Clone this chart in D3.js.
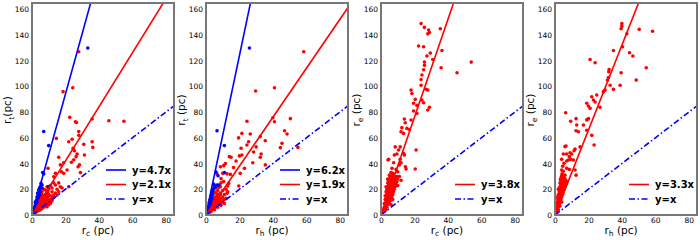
<!DOCTYPE html>
<html>
<head>
<meta charset="utf-8">
<script src="https://cdn.jsdelivr.net/npm/d3@7"></script>
<style>
  body { margin: 0; background: #fff; }
  svg { display: block; font-family: "DejaVu Sans", sans-serif; }
</style>
</head>
<body>
<svg id="chart" width="700" height="240"></svg>
<script>
// tick values shared by every panel
var xTicks = [0, 20, 40, 60, 80];
var yTicks = [0, 20, 40, 60, 80, 100, 120, 140, 160];

// panel 1: r_c vs r_t
var p1Red = [[28,127],[18.6,96],[24.4,99],[22.6,76],[26,72.6],[26.6,72],[36,74.7],[46,73.4],[55,73],
  [14.6,59.6],[28,65],[28,62],[22,57],[24,59],[24.6,52],[25.4,50],[31,55],[36,57],[36.4,52.6],[27,47.5],
  [26.4,45.4],[31.4,46.7],[25,43],[23.6,41],[17,39],[19,40.7],[16,45],[9.6,36.3],[14,32.4],[13,29.8],
  [17.6,33.7],[19,32.4],[21,35],[28.4,39],[27.6,37.6],[29,33],[13,25],[14,23.3],[16,25],[17,22],[22,22],
  [9,22],[8,19.5],[12,18],[13,15.6],[10,11.7],[11,9],[15,15.6],[9,6.5],
  [1,2],[1.5,3],[2,2.5],[2,4],[2.5,5],[3,3.5],[3,6],[3,8],[3.5,4.5],[3.5,7],[4,5],[4,9],[4,12],[4.5,6],
  [4.5,10],[5,5.5],[5,8],[5,14],[5.5,7],[5.5,11],[6,6.5],[6,9],[6,13],[6,18],[6.5,8],[6.5,15],[7,7.5],
  [7,10],[7,12],[7,20],[7.5,9],[7.5,14],[8,8.5],[8,11],[8,16],[8.5,10],[8.5,13],[9,9.5],[9,12],[9,17],
  [9.5,14],[10,11],[10,16],[10,20],[11,12],[11,15],[12,14],[12,21],[13,13.5],[14,17],[8,7],[4,3.5],
  [6,5],[10,8],[11,10],[5,4],[7,6],[3,2.5],[2,1.5],[12,11],[15,20],[16,18],[18,21],[11,23],[6,16],
  [2.5,3.5],[3.5,5.5],[4.5,8],[5.5,9],[6.5,11],[7.5,12],[8.5,15],[9.5,18],[4,6.5],[5,10],[6,11.5],[7,14]];
var p1Blue = [[33.4,130],[7,65],[10,54],[6.4,33],[7,32],[5.4,24.6],[6,23.3],[5,20.7],[4,19.5],[3.4,17],
  [3,14],[4.6,16],[10,22],[1,4],[1.5,6],[2,8],[2,10],[2.5,11],[3,12],[3.5,15],[4,17],[4.5,21],[5,22],
  [2,6],[1,3],[2.5,9],[3,10],[1.5,5],[3.5,13],[4,14],[6,21],[5,18]];
var p1Fits = [{k: 4.7, color: "#0000ff", label: "y=4.7x"}, {k: 2.1, color: "#ff0000", label: "y=2.1x"}];

// panel 2: r_h vs r_t
var p2Red = [[58.5,127],[41,99],[29.7,96.5],[24.5,73],[40,75.7],[41,72.6],[50.5,75],[47,65.6],[48.5,63],
  [21.5,63.5],[19.5,60],[26.5,63],[32.5,61],[35.5,57.8],[25.5,57],[24.5,54.5],[30,53],[21,52],[20,46],
  [21.5,46.7],[28.5,49],[33,47.5],[32.5,45],[44.5,52.4],[45.5,55.8],[55,52.6],[18,42],[16.5,37],[23,36.3],
  [28,40.7],[35.5,39],[11.6,40],[10.6,38.4],[14,45.4],[15,45],[8.6,37.6],[20.5,32.4],[6.6,32],[10,32.4],
  [12.6,32],[14.6,31.6],[9,28.3],[10.6,26],[13.6,24.6],[13,22.6],[8.6,22],[7.6,21.5],[13,18],[12.6,17],
  [8.6,15.6],[19.6,22.6],[4.6,11.7],
  [1,1.5],[1.5,2.5],[2,2.2],[2,4],[2.5,3],[2.5,6],[3,3.5],[3,7],[3.5,5],[3.5,9],[4,4.5],[4,7],[4,12],
  [4.5,6],[4.5,10],[5,5.5],[5,8],[5,14],[5.5,7],[5.5,12],[6,6.5],[6,10],[6,17],[6.5,8],[6.5,14],[7,7.5],
  [7,11],[7,19],[7.5,9],[7.5,15],[8,8.5],[8,12],[8.5,10],[8.5,17],[9,9.5],[9,13],[9.5,11],[10,19],
  [10,14],[11,12],[11,16],[12,13],[12,20],[3,2.5],[5,4],[7,6],[9,7.5],[11,9],[6,21],[5,18],[8,23],[9,25],
  [2.5,4.5],[3.5,6.5],[4.5,8],[5.5,10],[6.5,11],[7.5,13],[4,9.5],[6,14],[7,16]];
var p2Blue = [[26,130],[6.6,65.6],[11,54],[6,33.5],[7.2,30.6],[11,33],[4.6,23.3],[5.6,22],[4.2,19.5],
  [6.6,23.3],[7.6,23.3],[3.6,17],[3,14],[1,4],[1.5,6],[2,8],[2,10],[2.5,12],[3,15],[3.5,18],[4,20],
  [1,3],[2,6],[2.5,9],[3.5,13],[4,16],[5,21],[4.6,24],[3,11],[1.5,5]];
var p2Fits = [{k: 6.2, color: "#0000ff", label: "y=6.2x"}, {k: 1.9, color: "#ff0000", label: "y=1.9x"}];

// panel 3: r_c vs r_e
var p3Red = [[24,149],[26,146],[28.5,144],[29,142],[28,141],[35.5,145],[36.5,128],[22.5,131.5],[25.5,131],
  [29.5,126],[27.5,123.7],[31,121],[26,119],[26,116.5],[25.5,113],[36,114.6],[54,119],[45.5,110.7],
  [24.5,109],[24,105.5],[24,101],[27,97.8],[28,97.2],[18,97.2],[18.5,94.6],[20.5,90],[19.5,87],[21.5,85.3],
  [24.5,89.5],[25.5,87.4],[29,83.8],[28,81.7],[21.5,79],[19.5,81],[18,73.9],[14,74.7],[14.5,71.8],
  [15.5,67.4],[17,66.6],[12,64.8],[13.5,63.5],[12.5,68],[8.5,53],[11.5,53],[10.5,50.6],[8,46.7],[9.5,47.5],
  [13.5,48],[14,46.7],[4.6,43.3],[4.2,42.8],[21,50.6],[11.5,43.3],[12,40.7],[7.6,40.7],[14.6,37.6],
  [15,35.8],[20.5,35.8],[9,35.5],[10,33.7],[11,39],[6.6,36.3],[7.2,32.4],
  [1,2],[1.5,4],[2,3],[2,6],[2,9],[2.5,5],[2.5,8],[2.5,12],[3,4],[3,7],[3,10],[3,14],[3,18],[3.5,6],
  [3.5,9],[3.5,12],[3.5,16],[3.5,20],[4,8],[4,11],[4,14],[4,17],[4,21],[4,25],[4.5,10],[4.5,13],[4.5,16],
  [4.5,19],[4.5,23],[4.5,27],[5,9],[5,12],[5,15],[5,18],[5,21],[5,24],[5,28],[5,31],[5.5,11],[5.5,14],
  [5.5,17],[5.5,20],[5.5,23],[5.5,26],[5.5,30],[6,12],[6,15],[6,18],[6,21],[6,24],[6,27],[6,29],[6,33],
  [6.5,14],[6.5,17],[6.5,20],[6.5,23],[6.5,26],[6.5,30],[7,16],[7,19],[7,22],[7,25],[7,28],[7,31],
  [7.5,18],[7.5,21],[7.5,24],[7.5,27],[7.5,29],[8,20],[8,23],[8,26],[8,30],[8.5,22],[8.5,25],[8.5,28],
  [9,24],[9,27],[9.5,26],[9.5,30],[10,28],[10,23],[11,30],[12,27],[3,22],[4,28],[2.5,15],[6,8],[7,12]];
var p3Fits = [{k: 3.8, color: "#ff0000", label: "y=3.8x"}];

// panel 4: r_h vs r_e
var p4Red = [[40,149],[40,147],[39.6,145],[50.4,144.5],[58.4,143],[43,141],[40.4,131],[35,128],[44.6,126.3],
  [46.6,123.7],[21,121],[24,118.5],[32.4,113.3],[32.2,111.5],[39.6,110.7],[32,107],[31.4,105],[54.6,114.6],
  [48.6,105],[33,101],[39,101],[35,97.8],[30,97.2],[29,96],[25,93.4],[22,92],[23,89.5],[24,88],[19,87],
  [20,84.8],[21,83],[27,83.8],[6.4,79.6],[20,75],[19,74],[12.6,75],[13,70],[12.6,65.6],[9.4,73],[17,70],
  [19,66],[22,62],[23.4,54.5],[14,64.8],[15,53],[6.6,53.7],[6,53.2],[5,47.5],[7,47.5],[9,48.5],[10,47.5],
  [12,51.3],[11.4,50],[8.6,45.4],[9.4,43.3],[8,42.8],[7,42],[11,42.8],[4,43.3],[5.4,40.2],[4.6,38],
  [8.6,35.5],[12,35],[12.6,31],[7,36.3],
  [0.8,3],[1,5],[1.2,8],[1.5,4],[1.5,7],[1.5,10],[1.8,12],[2,6],[2,9],[2,13],[2,16],[2.2,11],[2.5,8],
  [2.5,12],[2.5,15],[2.5,18],[2.5,21],[2.8,14],[3,10],[3,13],[3,16],[3,19],[3,22],[3,25],[3.2,28],
  [3.5,12],[3.5,15],[3.5,18],[3.5,21],[3.5,24],[3.5,27],[3.8,30],[4,14],[4,17],[4,20],[4,23],[4,26],
  [4,29],[4.2,32],[4.5,16],[4.5,19],[4.5,22],[4.5,25],[4.5,28],[4.5,31],[5,18],[5,21],[5,24],[5,27],
  [5,30],[5.5,20],[5.5,23],[5.5,26],[5.5,29],[6,22],[6,25],[6,28],[6.5,24],[6.5,27],[7,26],[5,34],[4,35],
  [2,20],[1.5,14],[3,7],[2,4],[4,10],[6,31]];
var p4Fits = [{k: 3.3, color: "#ff0000", label: "y=3.3x"}];

var panels = [
  {left: 32, xSub: "c", ySub: "t", yGap: "", red: p1Red, blue: p1Blue, fits: p1Fits},
  {left: 206, xSub: "h", ySub: "t", yGap: " ", red: p2Red, blue: p2Blue, fits: p2Fits},
  {left: 381, xSub: "c", ySub: "e", yGap: " ", red: p3Red, blue: [], fits: p3Fits},
  {left: 555, xSub: "h", ySub: "e", yGap: " ", red: p4Red, blue: [], fits: p4Fits}
];

var plotW = 142, plotTop = 3, plotBottom = 215;
var plotH = plotBottom - plotTop;
var svg = d3.select("#chart");

var x = d3.scaleLinear().domain([0, 85]).range([0, plotW]);
var y = d3.scaleLinear().domain([0, 165]).range([plotH, 0]);

// "r" + subscript + rest, with dy shifts so the rest returns to the baseline
function subLabel(t, sub, rest) {
  t.append("tspan").text("r");
  t.append("tspan").attr("dy", 2.5).attr("font-size", 7.5).text(sub);
  t.append("tspan").attr("dy", -2.5).text(rest);
}

panels.forEach(function(p, i) {
  var g = svg.append("g").attr("transform", "translate(" + p.left + "," + plotTop + ")");

  g.append("clipPath").attr("id", "clip" + i)
    .append("rect").attr("width", plotW).attr("height", plotH);

  var plot = g.append("g").attr("clip-path", "url(#clip" + i + ")");

  plot.selectAll(".red").data(p.red).enter().append("circle")
    .attr("cx", function(d) { return x(d[0]); })
    .attr("cy", function(d) { return y(d[1]); })
    .attr("r", 1.8).attr("fill", "#ff0000");
  plot.selectAll(".blue").data(p.blue).enter().append("circle")
    .attr("cx", function(d) { return x(d[0]); })
    .attr("cy", function(d) { return y(d[1]); })
    .attr("r", 1.8).attr("fill", "#0000ff");

  var lines = p.fits.concat([{k: 1, color: "#0000ff", label: "y=x", dash: "6,2.5,1.5,2.5"}]);
  plot.selectAll(".fit").data(lines).enter().append("line")
    .attr("x1", x(0)).attr("y1", y(0))
    .attr("x2", x(85)).attr("y2", function(d) { return y(85 * d.k); })
    .attr("stroke", function(d) { return d.color; })
    .attr("stroke-width", 1.6)
    .attr("stroke-dasharray", function(d) { return d.dash || null; });

  // legend, bottom right
  var leg = g.selectAll(".leg").data(lines).enter().append("g")
    .attr("transform", function(d, j) {
      return "translate(74," + (199 - (lines.length - 1 - j) * 14.5 - plotTop) + ")";
    });
  leg.append("line").attr("x1", 0).attr("x2", 20)
    .attr("stroke", function(d) { return d.color; })
    .attr("stroke-width", 1.6)
    .attr("stroke-dasharray", function(d) { return d.dash || null; });
  leg.append("text").attr("x", 26).attr("dy", "0.35em")
    .attr("font-size", 10).attr("font-weight", "bold")
    .text(function(d) { return d.label; });

  // axes
  var ax = g.append("g").attr("transform", "translate(0," + plotH + ")")
    .call(d3.axisBottom(x).tickValues(xTicks).tickSize(0).tickPadding(2.5));
  var ay = g.append("g")
    .call(d3.axisLeft(y).tickValues(yTicks).tickSize(0).tickPadding(3));
  [ax, ay].forEach(function(a) {
    a.select(".domain").remove();
    a.selectAll("text").attr("font-size", 7.5).attr("font-family", "DejaVu Sans").attr("fill", "#000");
  });

  g.append("rect").attr("width", plotW).attr("height", plotH)
    .attr("fill", "none").attr("stroke", "#777").attr("stroke-width", 2);

  // axis titles with subscripts
  var xl = g.append("text").attr("x", plotW / 2 - 5).attr("y", 233.5 - plotTop)
    .attr("text-anchor", "middle").attr("font-size", 10.5);
  subLabel(xl, p.xSub, " (pc)");

  var yl = g.append("text")
    .attr("transform", "translate(-21," + (110 - plotTop) + ") rotate(-90)")
    .attr("text-anchor", "middle").attr("font-size", 10.5);
  subLabel(yl, p.ySub, p.yGap + "(pc)");
});
</script>
</body>
</html>
